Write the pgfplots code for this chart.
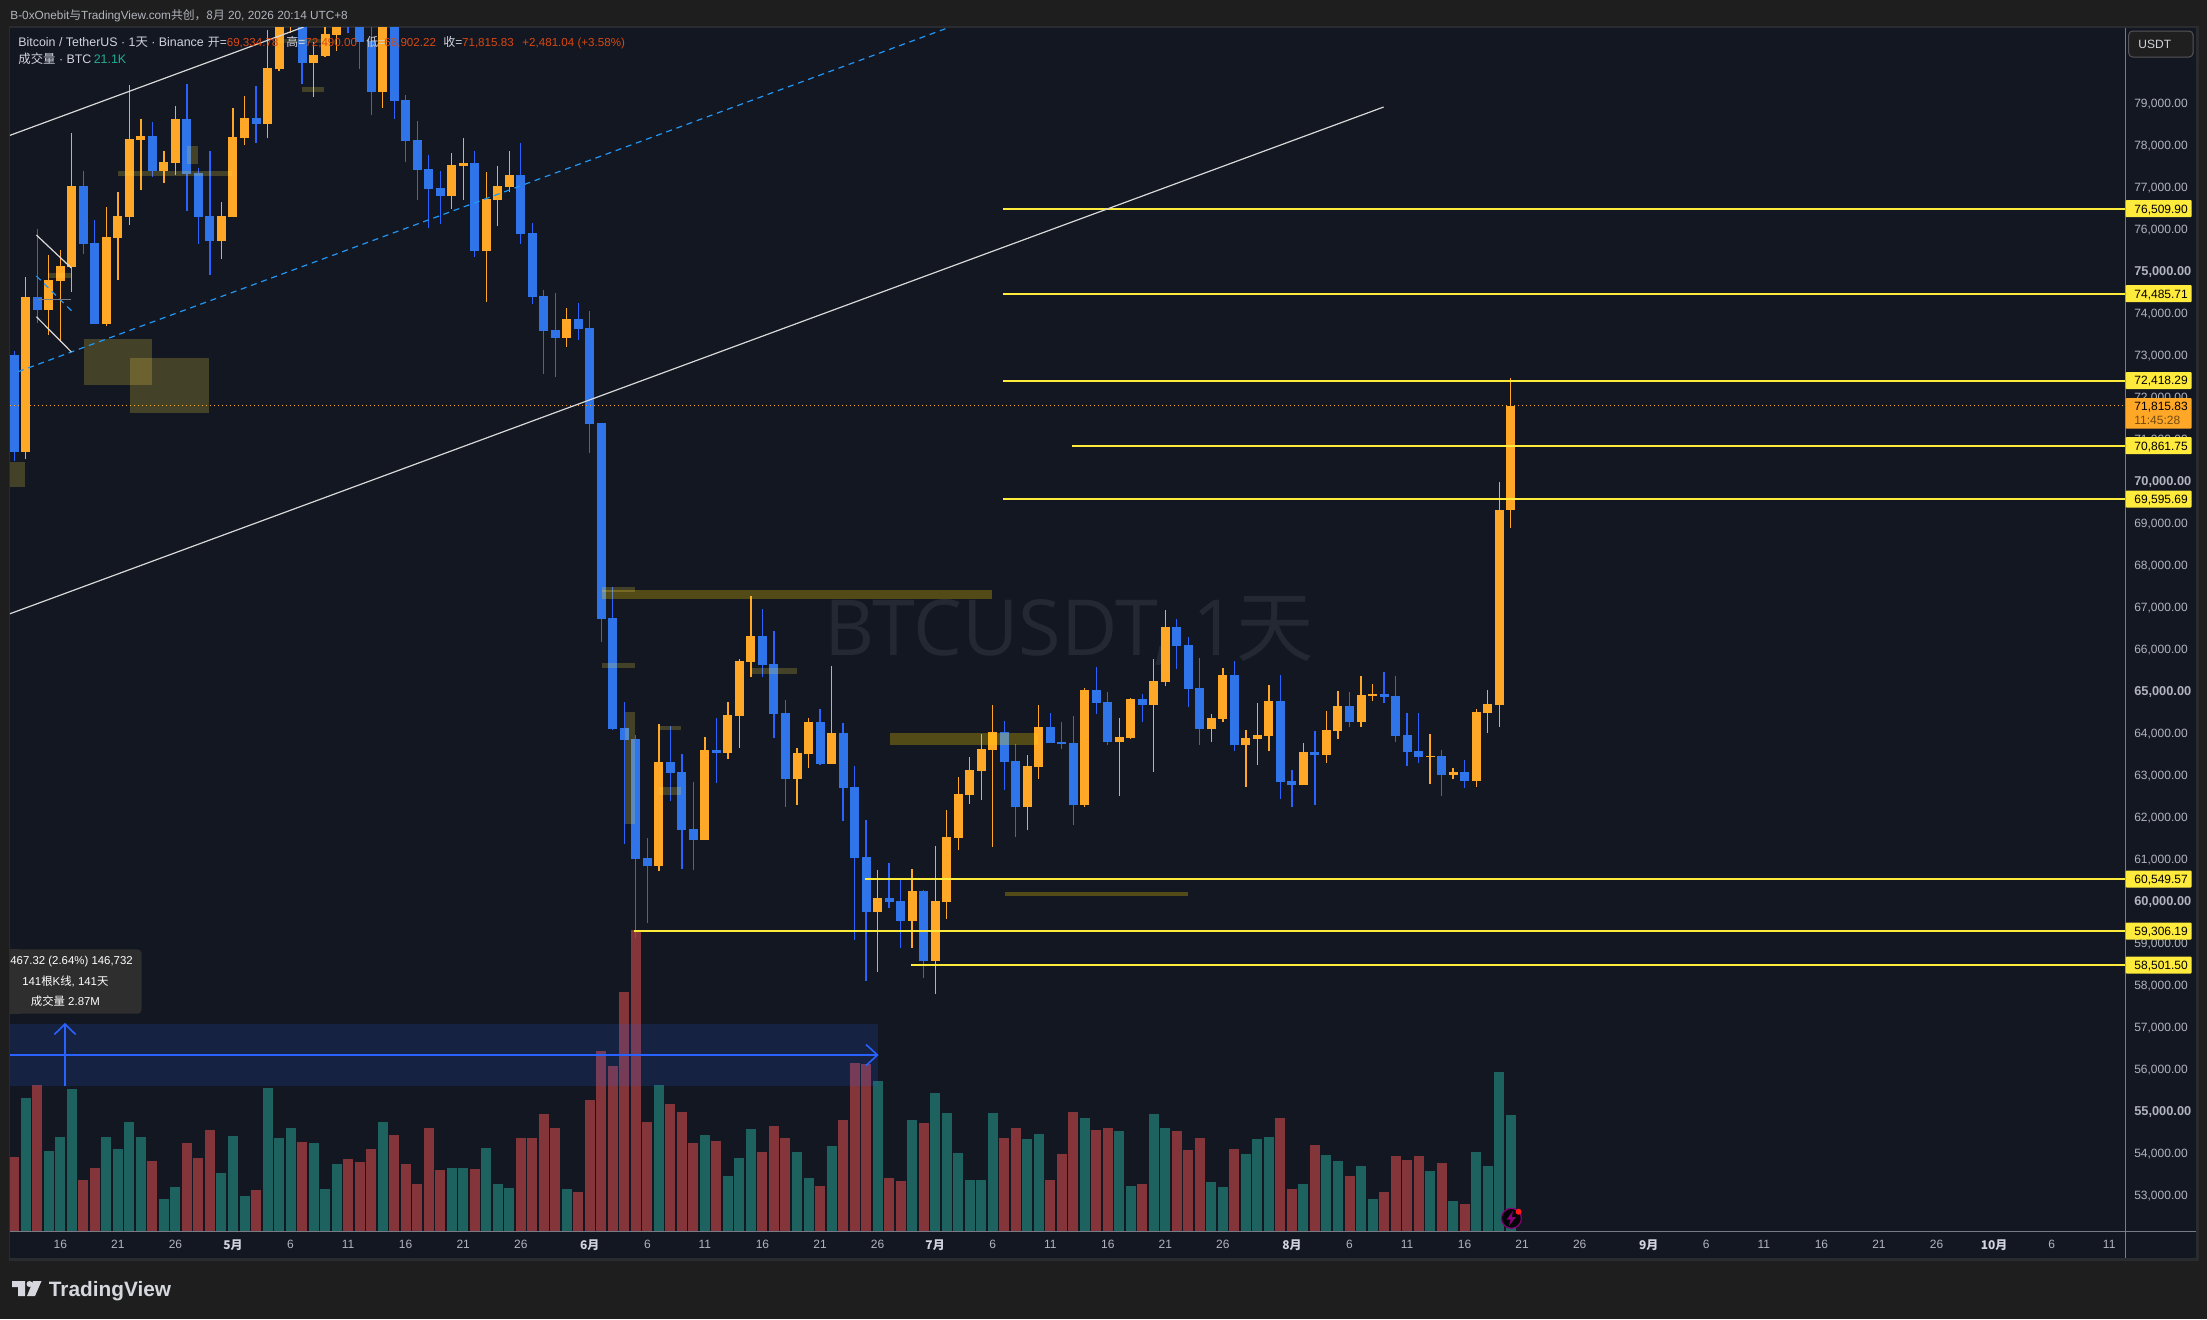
\documentclass[border=0pt]{standalone}
\usepackage{fontspec}
\usepackage{pgfplots}
\usepackage{pgfplotstable}
\pgfplotsset{compat=1.18}
\setmainfont{Liberation Sans}
\newfontfamily\cjk{Noto Sans CJK SC}
\newfontfamily\wm{Open Sans}
\definecolor{pagebg}{HTML}{1E1E1E}
\definecolor{panebg}{HTML}{131722}
\definecolor{framec}{HTML}{2A2B2F}
\definecolor{axisc}{HTML}{787B86}
\definecolor{upbody}{HTML}{FFA726}
\definecolor{dnbody}{HTML}{2F74E8}
\definecolor{dnwick}{HTML}{2962FF}
\definecolor{volg}{HTML}{1E6260}
\definecolor{volr}{HTML}{843539}
\definecolor{lvl}{HTML}{FFEB3B}
\definecolor{lbltxt}{HTML}{B2B5BE}
\definecolor{legtxt}{HTML}{D1D4DC}
\definecolor{legval}{HTML}{D9480F}
\definecolor{teal2}{HTML}{22AB94}
\definecolor{dashc}{HTML}{2196F3}
\definecolor{zonea}{HTML}{F6DA46}
\definecolor{zoneb}{HTML}{FFD800}
\definecolor{wmark}{HTML}{242833}

% up candles: index, open, high, low, close
\pgfplotstableread{
i o h l c
1 70716 74883 70549 74414
3 74097 75407 73502 74811
4 74788 75526 73335 75145
5 75121 78311 74526 77049
8 73764 76549 73716 75835
9 75811 76907 74811 76335
10 76311 79454 76121 78168
11 78145 78645 76954 78240
13 77407 77883 77121 77621
14 77597 78954 77311 78645
18 75740 76668 75311 76335
19 76311 78907 76311 78216
20 78192 79192 78026 78668
22 78526 80764 78192 79859
23 79835 82000 79788 81600
24 81000 82200 80700 81900
26 79978 80486 79168 80168
27 80145 81000 80121 80668
28 80645 81800 80264 81500
32 79288 81700 78907 81400
38 76811 77835 76502 77549
39 77526 78192 76716 77597
41 75502 77383 74288 76740
42 76716 77526 76097 77049
43 77026 77883 76907 77311
48 73430 74145 73216 73883
56 60859 64240 60740 63335
60 61478 63931 61478 63621
62 63550 64764 63407 64455
63 64431 65788 63669 65740
64 65716 67288 65359 66335
68 62931 63669 62312 63550
69 63526 64383 63193 64288
71 63288 65621 63288 64026
75 59764 60764 58335 60097
78 59550 60788 58907 60264
80 58597 61335 57812 60026
81 60002 62193 59597 61550
82 61526 62978 61240 62574
83 62550 63455 62336 63145
84 63121 64002 62431 63645
85 63621 64693 61312 64050
88 62264 63502 61716 63240
89 63216 64693 62931 64169
93 62312 65097 62264 65050
96 63812 64383 62526 63931
97 63907 64859 63883 64835
99 64693 65788 63097 65264
100 65240 66955 65145 66550
104 64121 64478 63812 64383
105 64359 65574 64288 65407
107 63740 64097 62740 63907
108 63883 64740 63264 63978
109 63955 65169 63597 64788
112 62788 63788 62788 63574
114 63502 64550 63312 64097
115 64074 65026 63883 64669
117 64288 65383 64169 64931
118 64907 65193 64788 64955
123 63455 64002 62812 63478
125 63026 63193 62931 63097
127 62883 64597 62740 64526
128 64502 65050 64026 64716
129 64693 70002 64169 69334.79
130 69334.78 72490 68902.22 71815.83
}\uptable
% down candles: index, open, high, low, close
\pgfplotstableread{
i o h l c
0 73026 73121 70502 70716
2 74407 76026 73788 74097
6 77049 77407 75430 75669
7 75692 76240 73764 73764
12 78240 78573 77264 77407
15 78645 79478 76454 77335
16 77359 77478 75669 76311
17 76335 77883 74930 75740
21 78668 79430 78073 78526
25 81700 82000 79478 79978
29 81400 81700 80684 81000
30 81300 81700 79835 80478
31 80502 81200 78740 79288
33 81500 81800 78645 79073
34 79097 79216 77621 78121
35 78145 78597 76716 77430
36 77454 77788 76049 76978
37 77002 77407 76145 76811
40 77597 77883 75359 75502
44 77311 78073 75669 75907
45 75930 76168 74240 74407
46 74430 74573 72573 73597
47 73621 74502 72502 73430
49 73883 74264 73383 73645
50 73669 74073 70692 71383
51 71407 71407 66200 66740
52 66764 67502 64097 64121
53 64145 64764 61383 63859
54 63883 63978 59145 61026
55 61050 61526 59502 60859
57 63335 64193 62407 63074
58 63097 63526 60788 61716
59 61740 62859 60764 61478
61 63621 64383 62835 63550
65 66335 66978 65359 65645
66 65669 66455 63907 64478
67 64502 64812 62264 62931
70 64288 64597 63264 63288
72 64026 64264 61931 62716
73 62740 63240 59097 61050
74 61074 61955 58121 59764
76 60097 60931 59859 60002
77 60026 60526 58907 59550
79 60264 60288 58193 58597
86 64050 64312 62669 63335
87 63359 63764 61550 62264
90 64169 64502 63788 63788
91 63812 64288 63645 63764
92 63788 64431 61835 62312
94 65050 65597 64478 64740
95 64764 65002 63740 63812
98 64835 64955 64288 64693
101 66550 66740 65550 66097
102 66121 66312 64645 65074
103 65097 65812 63740 64121
106 65407 65740 63597 63740
110 64788 65407 62455 62859
111 62883 63145 62264 62788
113 63574 64074 62312 63502
116 64669 65002 64169 64288
119 64955 65478 64740 64883
120 64907 65383 63812 63955
121 63978 64502 63240 63574
122 63597 64502 63312 63455
124 63478 63621 62526 63026
126 63097 63383 62716 62883
}\dntable
% volume in thousands of BTC
\pgfplotstableread{
i v
1 24.18
3 14.54
4 17.09
5 25.82
8 17.09
9 14.91
10 19.82
11 17.09
13 5.82
14 8.00
18 10.54
19 17.27
20 6.36
22 26.00
23 16.91
24 18.73
26 16.00
27 7.64
28 12.18
32 19.82
38 11.45
39 11.45
41 15.09
42 8.54
43 7.82
48 7.64
56 26.54
60 17.45
62 10.00
63 13.27
64 18.54
68 14.36
69 9.64
71 15.45
75 27.27
78 20.18
80 25.09
81 21.45
82 14.18
83 9.27
84 9.27
85 21.45
88 16.73
89 17.63
93 20.54
96 18.18
97 8.18
99 21.27
100 18.73
104 8.91
105 8.00
107 14.00
108 16.73
109 17.09
112 8.54
114 13.82
115 12.73
117 11.82
118 5.82
123 10.91
125 5.45
127 14.36
128 11.82
129 28.91
130 21.09
}\volgreen
\pgfplotstableread{
i v
0 13.45
2 26.54
6 9.27
7 11.45
12 12.73
15 16.00
16 13.27
17 18.36
21 7.45
25 16.18
29 13.09
30 12.54
31 14.91
33 17.45
34 12.18
35 8.54
36 18.73
37 11.09
40 11.27
44 16.91
45 16.91
46 21.27
47 18.73
49 7.09
50 23.82
51 32.72
52 30.00
53 43.45
54 54.72
55 19.82
57 23.09
58 21.63
59 16.00
61 16.36
65 14.36
66 19.09
67 16.91
70 8.18
72 20.18
73 30.54
74 30.36
76 9.64
77 9.09
79 19.63
86 16.91
87 18.73
90 9.27
91 14.00
92 21.63
94 18.36
95 18.73
98 8.54
101 18.18
102 14.73
103 16.91
106 14.91
110 20.54
111 7.64
113 15.63
116 10.00
119 7.09
120 13.63
121 12.91
122 13.63
124 12.36
126 4.91
}\volred

\newcommand\uif{\fontsize{6pt}{7pt}\selectfont}
\newcommand\legf{\fontsize{6.2pt}{7pt}\selectfont}
\newcommand\valf{\fontsize{5.8pt}{7pt}\selectfont}
\newcommand\T[4]{\node[anchor=base west,inner sep=0pt,text=#3,font=\uif] at (#1,#2) {#4};}
\newcommand\lbl[2]{\fill[lvl,rounded corners=0.5pt] (2125.5,#1-8.5) rectangle (2191.7,#1+8.5);
  \node[anchor=base west,inner sep=0pt,text=black,font=\uif] at (2134,#1+4.3) {#2};}
\newcommand\zone[5]{\addplot[draw=none,fill=#5] coordinates {(#1,#2)(#3,#2)(#3,#4)(#1,#4)} -- cycle;}
\pgfplotsset{
  base/.style={scale only axis,width=1057.65pt,height=601.75pt,at={(5pt,-615.5pt)},anchor=south west},
  wick/.style={draw=none,mark=none,forget plot,error bars/.cd,y dir=plus,y explicit,error mark=none,
     error bar style={line width=0.62pt,color=#1}},
  body/.style={draw=none,mark=none,forget plot,error bars/.cd,y dir=plus,y explicit,error mark=none,
     error bar style={line width=4.5pt,color=#1}},
}

\begin{document}
\begin{tikzpicture}
\begin{scope}[x=0.5pt,y=-0.5pt]
\useasboundingbox (0,0) rectangle (2207,1319);
\fill[pagebg] (0,0) rectangle (2207,1319);
\fill[framec] (8.5,25.5) rectangle (2199,1260.5);
\fill[panebg] (10,27.5) rectangle (2196,1258);
\node[anchor=base west,inner sep=0pt,text=wmark,font=\fontsize{38.7pt}{40pt}\selectfont\wm] at (824,655.5) {BTCUSDT, 1{\cjk 天}};
\end{scope}

% volume
\begin{axis}[base,hide axis,xmin=-0.3736,xmax=183.4,ymin=0,ymax=218.9]
\addplot[ycomb,mark=none,line width=5pt,volg] table[x=i,y=v] {\volgreen};
\addplot[ycomb,mark=none,line width=5pt,volr] table[x=i,y=v] {\volred};
\end{axis}

% price candles, levels and axis labels
\begin{axis}[base,xmin=-0.3736,xmax=183.4,ymin=52168.6,ymax=80823.4,
  axis x line=bottom,axis y line=right,axis line style={draw=none},
  major tick length=0pt,
  ytick={53000,54000,56000,57000,58000,59000,61000,62000,63000,64000,66000,67000,68000,69000,71000,72000,73000,74000,76000,77000,78000,79000},
  extra y ticks={55000,60000,65000,70000,75000},
  extra y tick style={y tick label style={font=\fontsize{6.4pt}{7pt}\selectfont\bfseries}},
  scaled y ticks=false,
  y tick label style={anchor=west,inner sep=0pt,xshift=4.3pt,yshift=0pt,text=lbltxt,font=\uif,
    /pgf/number format/.cd,fixed,fixed zerofill,precision=2,1000 sep={,},assume math mode=true,/tikz/.cd},
  xtick={4,9,14,19,24,29,34,39,44,50,55,60,65,70,75,80,85,90,95,100,105,111,116,121,126,131,136,142,147,152,157,162,167,172,177,182},
  xticklabels={16,21,26,{\textcolor{legtxt}{\cjk\bfseries 5月}},6,11,16,21,26,{\textcolor{legtxt}{\cjk\bfseries 6月}},6,11,16,21,26,{\textcolor{legtxt}{\cjk\bfseries 7月}},6,11,16,21,26,{\textcolor{legtxt}{\cjk\bfseries 8月}},6,11,16,21,26,{\textcolor{legtxt}{\cjk\bfseries 9月}},6,11,16,21,26,{\textcolor{legtxt}{\cjk\bfseries 10月}},6,11},
  x tick label style={anchor=north,inner sep=0pt,yshift=-4.2pt,text=lbltxt,font=\uif},
]
\addplot[wick=upbody] table[x=i,y=l,y error plus expr=\thisrow{h}-\thisrow{l}] {\uptable};
\addplot[wick=dnwick] table[x=i,y=l,y error plus expr=\thisrow{h}-\thisrow{l}] {\dntable};
\addplot[body=upbody] table[x=i,y=o,y error plus expr=\thisrow{c}-\thisrow{o}] {\uptable};
\addplot[body=dnbody] table[x=i,y=c,y error plus expr=\thisrow{o}-\thisrow{c}] {\dntable};
\addplot[lvl,line width=1pt,mark=none] coordinates {(85.9,76509.90)(183.4,76509.90)};
\addplot[lvl,line width=1pt,mark=none] coordinates {(85.9,74485.71)(183.4,74485.71)};
\addplot[lvl,line width=1pt,mark=none] coordinates {(85.9,72418.29)(183.4,72418.29)};
\addplot[lvl,line width=1pt,mark=none] coordinates {(91.9,70861.75)(183.4,70861.75)};
\addplot[lvl,line width=1pt,mark=none] coordinates {(85.9,69595.69)(183.4,69595.69)};
\addplot[lvl,line width=1pt,mark=none] coordinates {(73.9,60549.57)(183.4,60549.57)};
\addplot[lvl,line width=1pt,mark=none] coordinates {(53.8,59306.19)(183.4,59306.19)};
\addplot[lvl,line width=1pt,mark=none] coordinates {(77.9,58501.50)(183.4,58501.50)};
\addplot[upbody,line width=0.55pt,mark=none,dash pattern=on 0.55pt off 1.45pt] coordinates {(-0.3736,71815.83)(183.4,71815.83)};
\end{axis}

% drawings, in the chart's pixel frame
\begin{axis}[base,hide axis,xmin=10,xmax=2125.3,ymin=27.5,ymax=1231,y dir=reverse]
\zone{84}{339}{152}{385}{zonea,fill opacity=0.22}
\zone{130}{358}{209}{413}{zonea,fill opacity=0.22}
\zone{10}{462}{25}{487}{zonea,fill opacity=0.22}
\zone{118}{171}{232}{176}{zonea,fill opacity=0.22}
\zone{187}{146}{197.5}{164}{zonea,fill opacity=0.22}
\zone{48}{273}{71.4}{278}{zonea,fill opacity=0.22}
\zone{302}{87}{324}{92}{zonea,fill opacity=0.22}
\zone{278}{39}{330}{43}{zonea,fill opacity=0.15}
\zone{602}{590}{992}{599}{zoneb,fill opacity=0.27}
\zone{602}{587}{635}{592}{zonea,fill opacity=0.22}
\zone{602}{663}{635}{668}{zonea,fill opacity=0.22}
\zone{751.3}{668}{797}{674}{zonea,fill opacity=0.22}
\zone{625}{712}{635}{824}{zonea,fill opacity=0.22}
\zone{659}{726}{681}{730}{zonea,fill opacity=0.22}
\zone{659}{787}{681}{795}{zonea,fill opacity=0.22}
\zone{890}{733}{1037.6}{745}{zoneb,fill opacity=0.27}
\zone{1005}{892}{1188}{896}{zoneb,fill opacity=0.27}
\zone{10}{1024}{877.8}{1085.7}{dnwick,fill opacity=0.15}
\addplot[white!85!black,line width=0.6pt,mark=none] coordinates {(10,135.3)(303.6,27)};
\addplot[white!85!black,line width=0.6pt,mark=none] coordinates {(10,613.7)(1383.6,107)};
\addplot[dashc,line width=0.6pt,mark=none,dash pattern=on 3pt off 2.4pt] coordinates {(18,371.7)(950,27)};
\addplot[white!85!black,line width=0.6pt,mark=none] coordinates {(36.4,235)(71.4,268)};
\addplot[white!85!black,line width=0.6pt,mark=none] coordinates {(36.4,316.7)(71.4,352)};
\addplot[dashc,line width=0.6pt,mark=none,dash pattern=on 3pt off 2.4pt] coordinates {(36.4,276)(71.4,310.7)};
\addplot[axisc,line width=0.4pt,mark=none] coordinates {(38,299)(71,299)};
\addplot[dnwick,line width=1pt,mark=none] coordinates {(10,1055)(877,1055)};
\addplot[dnwick,line width=0.8pt,mark=none] coordinates {(866,1044.5)(877.5,1055)(866,1065.5)};
\addplot[dnwick,line width=0.8pt,mark=none] coordinates {(65,1086)(65,1024.5)};
\addplot[dnwick,line width=0.8pt,mark=none] coordinates {(54.3,1034.5)(65,1024)(75.7,1034.5)};
\end{axis}

\begin{scope}[x=0.5pt,y=-0.5pt]
% axis rules
\draw[axisc,line width=0.5pt] (2125.3,27.5) -- (2125.3,1258);
\draw[axisc,line width=0.5pt] (10,1231.3) -- (2196,1231.3);
% header
\node[anchor=base west,inner sep=0pt,text=lbltxt,font=\fontsize{5.9pt}{7pt}\selectfont] at (10,19) {B-0xOnebit{\cjk 与}TradingView.com{\cjk 共创，8月} 20, 2026 20:14 UTC+8};
% legend
\T{18}{46.5}{legtxt}{\legf Bitcoin / TetherUS · 1{\cjk 天} · Binance}
\T{207.5}{46.5}{legtxt}{{\cjk 开}=}
\T{226.4}{46.5}{legval}{\valf 69,334.78}
\T{286}{46.5}{legtxt}{{\cjk 高}=}
\T{305}{46.5}{legval}{\valf 72,490.00}
\T{366}{46.5}{legtxt}{{\cjk 低}=}
\T{384}{46.5}{legval}{\valf 68,902.22}
\T{443}{46.5}{legtxt}{{\cjk 收}=}
\T{461.7}{46.5}{legval}{\valf 71,815.83}
\T{522}{46.5}{legval}{\valf +2,481.04 (+3.58\%)}
\T{18}{63.5}{legtxt}{\legf {\cjk 成交量} · BTC}
\T{93.4}{63.5}{teal2}{\legf 21.1K}
% USDT button
\draw[fill=black!88!white,draw=framec!80!white,line width=0.5pt,rounded corners=2pt] (2128.7,31) rectangle (2193,57);
\T{2138}{48.5}{legtxt}{USDT}
% level labels
\lbl{208.7}{76,509.90}
\lbl{293.7}{74,485.71}
\lbl{380.5}{72,418.29}
\lbl{445.7}{70,861.75}
\lbl{499}{69,595.69}
\lbl{879}{60,549.57}
\lbl{931.2}{59,306.19}
\lbl{965}{58,501.50}
\fill[upbody,rounded corners=0.5pt] (2125.5,398) rectangle (2191.7,428.7);
\T{2134}{410}{black}{71,815.83}
\T{2134}{424.2}{upbody!45!black}{11:45:28}
% measure tool
\fill[black!82!white,rounded corners=2pt] (10,949.3) rectangle (141.5,1013.7);
\fill[black!82!white] (10,949.3) rectangle (20,1013.7);
\node[anchor=base west,inner sep=0pt,text=white,font=\fontsize{5.7pt}{7pt}\selectfont] at (10,964.5) {467.32 (2.64\%) 146,732};
\node[anchor=base,inner sep=0pt,text=white,font=\fontsize{5.7pt}{7pt}\selectfont] at (65.4,985) {141{\cjk 根}K{\cjk 线}, 141{\cjk 天}};
\node[anchor=base,inner sep=0pt,text=white,font=\fontsize{5.7pt}{7pt}\selectfont] at (65.4,1005) {{\cjk 成交量} 2.87M};
% lightning badge
\draw[fill=black!80!panebg,draw=purple!70!blue,line width=0.6pt] (1511.4,1218.3) circle (10);
\fill[purple!70!blue] (1513,1211) -- (1506.5,1219.5) -- (1510.5,1219.5) -- (1509,1226) -- (1515.8,1217) -- (1511.8,1217) -- cycle;
\fill[red!90!white] (1518.6,1211.7) circle (3);
% TradingView logo
\fill[legtxt!90!white] (12,1281) -- (25,1281) -- (25,1296) -- (18,1296) -- (18,1287) -- (12,1287) -- cycle;
\fill[legtxt!90!white] (29.5,1284) circle (3);
\fill[legtxt!90!white] (33,1281) -- (41.5,1281) -- (35,1296) -- (27,1296) -- cycle;
\node[anchor=base west,inner sep=0pt,text=legtxt!90!white,font=\fontsize{10.4pt}{12pt}\selectfont\bfseries] at (48.5,1296) {TradingView};
\end{scope}
\end{tikzpicture}
\end{document}
